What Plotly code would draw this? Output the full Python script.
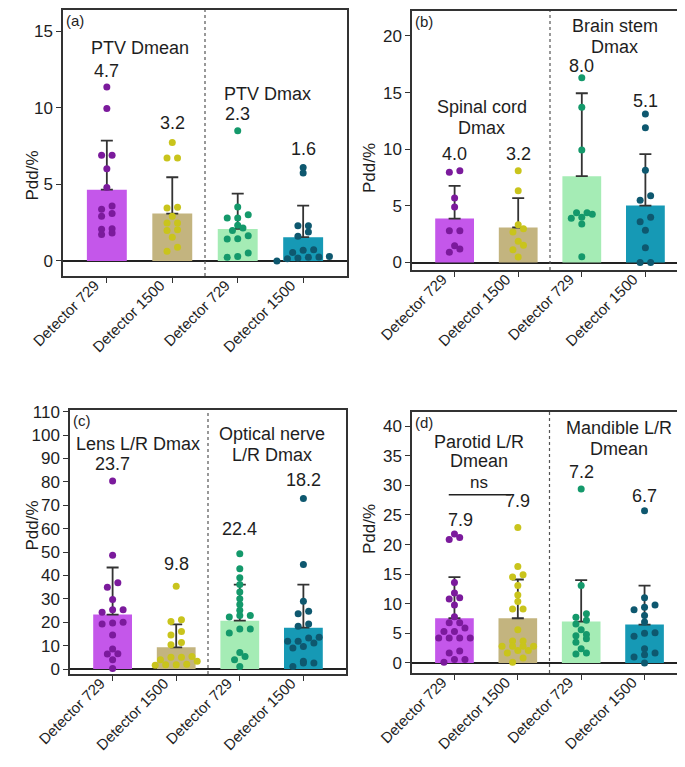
import numpy as np
import plotly.graph_objects as go

W, H = 685, 767
FONT = "Liberation Sans"
TXT = "#1e1e1e"

categories = ["Detector 729", "Detector 1500", "Detector 729", "Detector 1500"]

bar_colors = ["#C457EA", "#C3B47F", "#A5ECB5", "#1699B5"]
dot_colors = ["#7B1A9C", "#C9C41C", "#14996B", "#0E586F"]

# ---------------- panel (a) ----------------
a_pts = [
    [11.35, 9.95, 6.9, 6.9, 6.02, 4.8, 3.59, 3.37, 3.09, 2.91, 2.1, 2.07, 1.83, 1.72],
    [7.72, 6.72, 6.72, 3.5, 3.46, 2.91, 2.48, 2.48, 2.04, 1.98, 1.55, 0.89, 0.63],
    [8.5, 3.52, 3.02, 2.8, 2.8, 2.33, 2.15, 1.98, 1.65, 1.45, 1.43, 0.52, 0.3, 0.24],
    [6.1, 5.74, 2.3, 2.3, 1.89, 1.61, 0.74, 0.7, 0.55, 0.3, 0.26, 0.24, 0.2, 0.15, 0.0],
]
a_bar = [4.65, 3.09, 2.09, 1.55]
a_sd = [3.2, 2.37, 2.3, 2.06]
a_lab = ["4.7", "3.2", "2.3", "1.6"]

# ---------------- panel (b) ----------------
b_pts = [
    [8.1, 7.96, 5.69, 4.9, 2.8, 2.8, 1.48, 1.19, 0.9],
    [8.1, 6.34, 3.34, 2.98, 2.69, 1.87, 1.52, 1.13, 0.49],
    [16.3, 13.7, 9.94, 4.4, 4.4, 4.26, 4.0, 3.9, 3.4, 0.5],
    [13.1, 11.9, 8.15, 5.9, 5.5, 4.0, 3.6, 2.85, 1.3, 0.0, 0.0],
]
b_bar = [3.88, 3.09, 7.62, 5.03]
b_sd = [2.88, 2.59, 7.32, 4.53]
b_lab = ["4.0", "3.2", "8.0", "5.1"]

# ---------------- panel (c) ----------------
c_pts = [
    [80.4, 48.6, 36.9, 35.0, 29.7, 25.4, 25.4, 24.3, 20.0, 19.7, 19.3, 14.6, 8.6, 6.6, 6.4, 4.0, 0.3],
    [35.4, 21.1, 20.3, 16.1, 14.6, 11.4, 10.4, 5.4, 5.1, 5.1, 4.0, 3.3, 2.1, 1.9, 1.9, 1.6],
    [49.3, 42.9, 39.0, 36.1, 32.9, 30.0, 27.6, 25.1, 22.9, 22.9, 22.3, 17.1, 17.1, 15.4, 7.1, 5.4, 4.0, 1.1],
    [72.9, 44.7, 29.0, 24.7, 23.6, 19.3, 18.3, 13.6, 13.3, 11.9, 11.9, 11.1, 9.7, 9.0, 3.3, 2.6, 2.6, 1.1],
]
c_bar = [23.3, 9.3, 20.7, 17.7]
c_sd = [20.1, 9.8, 15.4, 18.4]
c_lab = ["23.7", "9.8", "22.4", "18.2"]

# ---------------- panel (d) ----------------
d_pts = [
    [21.8, 21.2, 20.85, 13.6, 11.8, 11.0, 10.8, 9.8, 7.8, 6.8, 6.8, 5.9, 5.3, 5.3, 4.2, 4.2, 4.2, 4.2, 2.0, 1.7, 0.56, 0.56, 0.1],
    [22.9, 16.3, 14.9, 14.5, 13.1, 11.5, 10.4, 9.1, 9.1, 5.6, 3.7, 3.7, 2.8, 2.8, 2.8, 2.8, 2.1, 2.1, 1.7, 0.85, 0.1],
    [29.4, 13.1, 8.3, 7.7, 7.2, 6.6, 5.6, 4.8, 4.6, 4.1, 3.5, 2.4, 1.7, 1.5],
    [25.7, 11.0, 9.8, 9.4, 9.0, 8.0, 6.9, 5.1, 5.0, 4.5, 2.4, 1.7, 1.4, 1.0, 0.0],
]
d_bar = [7.55, 7.55, 6.99, 6.48]
d_sd = [6.95, 6.55, 7.01, 6.59]
d_lab = ["7.9", "7.9", "7.2", "6.7"]

panels = [
    dict(key="", tag="(a)", pts=a_pts, bar=a_bar, sd=a_sd, lab=a_lab,
         dom_px=(55, 339, 2, 268), yr=(-0.98, 16.37), ticks=[0, 5, 10, 15],
         lab_y=[12.4, 9.0, 9.6, 7.3], lab_x=[0, 1, 2, 3],
         groups=[("PTV Dmean", 0.5, 13.9), ("PTV Dmax", 2.46, 10.9)],
         title_px=(12, 141)),
    dict(key="2", tag="(b)", pts=b_pts, bar=b_bar, sd=b_sd, lab=b_lab,
         dom_px=(404, 680, 3, 262), yr=(-0.66, 22.2), ticks=[0, 5, 10, 15, 20],
         lab_y=[9.56, 9.56, 17.35, 14.3], lab_x=[0, 1, 2, 3],
         groups=[("Spinal cord", 0.43, 13.7), ("Dmax", 0.43, 11.9),
                 ("Brain stem", 2.52, 20.9), ("Dmax", 2.52, 19.0)],
         title_px=(361, 133)),
    dict(key="3", tag="(c)", pts=c_pts, bar=c_bar, sd=c_sd, lab=c_lab,
         dom_px=(62, 338, 402, 666), yr=(-2.1, 110.7), ticks=list(range(0, 111, 10)),
         lab_y=[87.6, 44.7, 59.7, 80.9], lab_x=[0, 1, 2, 3],
         groups=[("Lens L/R Dmax", 0.4, 96.1),
                 ("Optical nerve", 2.5, 100.4), ("L/R Dmax", 2.5, 91.6)],
         title_px=(12, 545)),
    dict(key="4", tag="(d)", pts=d_pts, bar=d_bar, sd=d_sd, lab=d_lab,
         dom_px=(404, 679, 404, 665), yr=(-1.7, 42.4), ticks=list(range(0, 41, 5)),
         lab_y=[24.2, 27.3, 32.2, 28.2], lab_x=[0.09, 1.0, 2, 3],
         groups=[("Parotid L/R", 0.38, 37.4), ("Dmean", 0.38, 34.1),
                 ("Mandible L/R", 2.6, 39.7), ("Dmean", 2.6, 36.2)],
         title_px=(361, 548)),
]

XR = (-0.67, 3.67)
BAR_W = 0.61


def swarm(vals, px_unit, px_cat, step_px=10.5, thr_px=5.0):
    vals = np.asarray(vals, dtype=float)
    order = np.argsort(vals, kind="stable")
    rows = []
    for idx in order:
        ypx = vals[idx] * px_unit
        if rows and ypx - rows[-1][0] <= thr_px:
            rows[-1][1].append(idx)
        else:
            rows.append([ypx, [idx]])
    off = np.zeros(len(vals))
    for _, members in rows:
        n = len(members)
        for i, m in enumerate(members):
            off[m] = (i - (n - 1) / 2) * step_px / px_cat
    return off


fig = go.Figure()
layout = dict(width=W, height=H, margin=dict(l=0, r=0, t=0, b=0, autoexpand=False),
              paper_bgcolor="white", plot_bgcolor="white", showlegend=False,
              font=dict(family=FONT, color=TXT))
annotations = []
shapes = []

for p in panels:
    k = p["key"]
    xa, ya = "x" + k, "y" + k
    x0, x1, y0, y1 = p["dom_px"]
    xdom = [x0 / W, x1 / W]
    ydom = [1 - y1 / H, 1 - y0 / H]
    px_cat = (x1 - x0) / (XR[1] - XR[0])
    px_unit = (y1 - y0) / (p["yr"][1] - p["yr"][0])

    fig.add_trace(go.Bar(
        x=[0, 1, 2, 3], y=p["bar"], width=BAR_W, xaxis=xa, yaxis=ya,
        marker=dict(color=bar_colors, line=dict(width=0)),
        error_y=dict(type="data", symmetric=False, array=p["sd"],
                     arrayminus=[0, 0, 0, 0], color="#333333", thickness=1.8, width=6),
    ))
    for i, vals in enumerate(p["pts"]):
        off = swarm(vals, px_unit, px_cat)
        fig.add_trace(go.Scatter(
            x=i + off, y=vals, mode="markers", xaxis=xa, yaxis=ya,
            marker=dict(color=dot_colors[i], size=7, line=dict(width=0)),
        ))

    layout["xaxis" + k] = dict(
        domain=xdom, anchor=ya, range=list(XR), tickvals=[0, 1, 2, 3], ticktext=categories,
        tickangle=-45, ticks="outside", ticklen=5, tickwidth=1.2, tickcolor="#333",
        ticklabelstandoff=-12, ticklabelshift=-12,
        showline=True, mirror=True, linecolor="#333", linewidth=1.5, automargin=False,
        showgrid=False, zeroline=False, tickfont=dict(size=15, family=FONT, color=TXT))
    layout["yaxis" + k] = dict(
        domain=ydom, anchor=xa, range=list(p["yr"]), tickvals=p["ticks"],
        ticks="outside", ticklen=5, tickwidth=1.2, tickcolor="#333", automargin=False,
        showline=True, mirror=True, linecolor="#333", linewidth=1.5,
        showgrid=False, zeroline=True, zerolinecolor="#222", zerolinewidth=1.5,
        tickfont=dict(size=17, family=FONT, color=TXT))

    shapes.append(dict(type="line", xref=xa, yref=ya + " domain", x0=1.5, x1=1.5, y0=0, y1=1,
                       line=dict(color="#555", width=1.2, dash="dot")))

    for lx, ly, t in zip(p["lab_x"], p["lab_y"], p["lab"]):
        annotations.append(dict(x=lx, y=ly, xref=xa, yref=ya, text=t, showarrow=False,
                                font=dict(size=18, family=FONT, color=TXT)))
    for t, gx, gy in p["groups"]:
        annotations.append(dict(x=gx, y=gy, xref=xa, yref=ya, text=t, showarrow=False,
                                font=dict(size=18, family=FONT, color=TXT)))
    annotations.append(dict(x=0.005, y=1.0, xref=xa + " domain", yref=ya + " domain",
                            text=p["tag"], showarrow=False, xanchor="left", yanchor="top",
                            font=dict(size=15, family=FONT, color=TXT)))
    tx, ty = p["title_px"]
    annotations.append(dict(x=tx / W, y=1 - ty / H, xref="paper", yref="paper", text="Pdd/%",
                            textangle=-90, showarrow=False,
                            font=dict(size=17, family=FONT, color=TXT)))

# "ns" comparison in panel (d)
annotations.append(dict(x=0.38, y=28.5, xref="x4", yref="y4", text="ns", showarrow=False,
                        yanchor="bottom", font=dict(size=17, family=FONT, color=TXT)))
shapes.append(dict(type="line", xref="x4", yref="y4", x0=-0.09, x1=0.89, y0=28.4, y1=28.4,
                   line=dict(color="#222", width=1.5)))

layout["annotations"] = annotations
layout["shapes"] = shapes
fig.update_layout(**layout)
fig.write_html("out.html")
